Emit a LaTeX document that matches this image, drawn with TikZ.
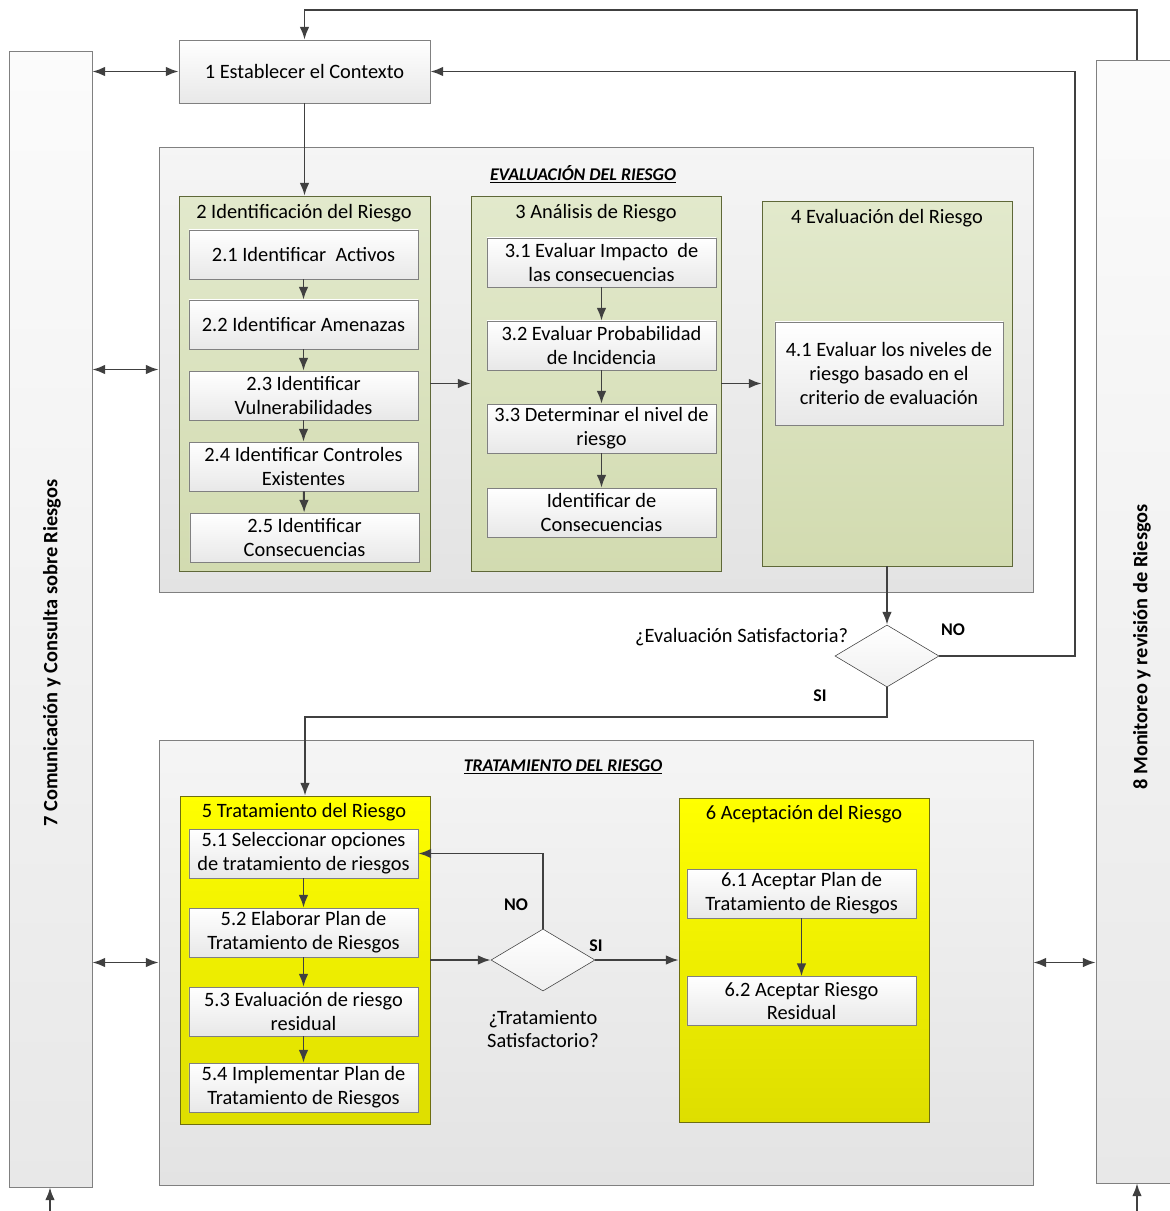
\documentclass[tikz,border=0pt]{standalone}
\usepackage{fontspec}
\setmainfont{Carlito}
\usetikzlibrary{shapes.geometric,arrows.meta,fit}
\definecolor{linegray}{HTML}{404040}
\definecolor{greentop}{HTML}{E2E9CC}
\definecolor{greenbot}{HTML}{D2DBB0}
\definecolor{greenedge}{HTML}{5F6838}
\definecolor{yellowtop}{HTML}{FFFF00}
\definecolor{yellowbot}{HTML}{DEDE00}
\definecolor{yellowedge}{HTML}{6E6E10}
\newcommand{\txt}{\fontsize{14.5}{17}\selectfont}
\newcommand{\smalltxt}{\fontsize{12.7}{14}\selectfont\bfseries}

\begin{document}
\begin{tikzpicture}[x=0.025cm,y=-0.025cm,
    >={Latex[length=3.2mm,width=2.4mm]},
    arr/.style={draw=linegray,line width=1.4pt,->},
    dbl/.style={draw=linegray,line width=1.4pt,<->},
    sub/.style={draw=gray,top color=white,bottom color=gray!18,inner sep=0pt,align=center,font=\txt,
      minimum width=5.725cm,minimum height=1.225cm},
    panel/.style={draw=gray,top color=gray!8,bottom color=gray!22,inner sep=0pt},
    bar/.style={draw=gray,top color=gray!3,bottom color=gray!18,inner sep=0pt},
    greenbox/.style={draw=greenedge,top color=greentop,bottom color=greenbot,inner sep=0pt},
    yellowbox/.style={draw=yellowedge,top color=yellowtop,bottom color=yellowbot,inner sep=0pt},
    decision/.style={diamond,draw=linegray,top color=white,bottom color=gray!12,inner sep=0pt,minimum width=2.6cm,minimum height=1.55cm},
    tag/.style={font=\smalltxt}]
  \useasboundingbox (0,0) rectangle (1170,1211);

  % side bars
  \node[bar,fit={(9,51) (92,1187)}] (c7) {};
  \node[bar,fit={(1096,60) (1171,1183)}] (m8) {};
  \node[rotate=90,font=\txt\bfseries] (t7) at (52,653) {7 Comunicación y Consulta sobre Riesgos};
  \node[rotate=90,font=\txt\bfseries] (t8) at (1142,647) {8 Monitoreo y revisión de Riesgos};

  \node[sub,minimum width=6.275cm,minimum height=1.575cm] (s1) at (304.5,71.5) {1 Establecer el Contexto};

  % evaluacion del riesgo
  \node[panel,fit={(159,147) (1033,592)}] (pe) {};
  \node[font=\smalltxt\itshape] (te) at (583,174) {\underline{EVALUACIÓN DEL RIESGO}};

  \node[greenbox,fit={(179,196) (430,571)}] (b2) {};
  \node[font=\txt] (t2) at (304,213) {2 Identificación del Riesgo};
  \node[sub] (s21) at (303.5,254.5) {2.1 Identificar~~Activos};
  \node[sub] (s22) at (303.5,324.5) {2.2 Identificar Amenazas};
  \node[sub] (s23) at (303.5,395.5) {2.3 Identificar\\Vulnerabilidades};
  \node[sub] (s24) at (303.5,466.5) {2.4 Identificar Controles\\Existentes};
  \node[sub] (s25) at (304.5,537.5) {2.5 Identificar\\Consecuencias};

  \node[greenbox,fit={(471,196) (721,571)}] (b3) {};
  \node[font=\txt] (t3) at (596,213) {3 Análisis de Riesgo};
  \node[sub] (s31) at (601.5,262.5) {3.1 Evaluar Impacto~~de\\las consecuencias};
  \node[sub] (s32) at (601.5,345.5) {3.2 Evaluar Probabilidad\\de Incidencia};
  \node[sub] (s33) at (601.5,428.5) {3.3 Determinar el nivel de\\riesgo};
  \node[sub] (s34) at (601.5,512.5) {Identificar de\\Consecuencias};

  \node[greenbox,fit={(762,201) (1012,566)}] (b4) {};
  \node[font=\txt] (t4) at (887,218) {4 Evaluación del Riesgo};
  \node[sub,minimum width=5.7cm,minimum height=2.575cm] (s41) at (889,373.5) {4.1 Evaluar los niveles de\\riesgo basado en el\\criterio de evaluación};

  \node[decision] (d1) at (887,656) {};
  \node[font=\txt,anchor=east] (q1) at (853,637) {¿Evaluación Satisfactoria?};
  \node[tag] (no1) at (953,630) {NO};
  \node[tag] (si1) at (820,696) {SI};

  % tratamiento del riesgo
  \node[panel,fit={(159,740) (1033,1185)}] (pt) {};
  \node[font=\smalltxt\itshape] (tt) at (563,767) {\underline{TRATAMIENTO DEL RIESGO}};

  \node[yellowbox,fit={(180,796) (430,1124)}] (b5) {};
  \node[font=\txt] (t5) at (304,812) {5 Tratamiento del Riesgo};
  \node[sub] (s51) at (303.5,853.5) {5.1 Seleccionar opciones\\de tratamiento de riesgos};
  \node[sub] (s52) at (303.5,932.5) {5.2 Elaborar Plan de\\Tratamiento de Riesgos};
  \node[sub] (s53) at (303.5,1011.5) {5.3 Evaluación de riesgo\\residual};
  \node[sub] (s54) at (303.5,1087.5) {5.4 Implementar Plan de\\Tratamiento de Riesgos};

  \node[decision] (d2) at (543,960) {};
  \node[font=\txt,align=center] (q2) at (543,1029) {¿Tratamiento\\Satisfactorio?};
  \node[tag] (no2) at (516,905) {NO};
  \node[tag] (si2) at (596,946) {SI};

  \node[yellowbox,fit={(679,798) (929,1122)}] (b6) {};
  \node[font=\txt] (t6) at (804,814) {6 Aceptación del Riesgo};
  \node[sub] (s61) at (801.5,893.5) {6.1 Aceptar Plan de\\Tratamiento de Riesgos};
  \node[sub] (s62) at (801.5,1001) {6.2 Aceptar Riesgo\\Residual};

  % helper coordinates
  \coordinate (topy) at (0,10);
  \coordinate (noturn) at (1075,0);
  \coordinate (siy) at (0,717);
  \coordinate (in7) at (50,1211);
  \coordinate (in8) at (1137,1211);

  % connectors
  \draw[dbl] (c7.east |- s1.west) -- (s1.west);
  \draw[arr] (in8 |- m8.north) -- (in8 |- topy) -| (s1.north);
  \draw[arr] (s1.south) -- (b2.north);
  \draw[arr] (s21) -- (s22);
  \draw[arr] (s22) -- (s23);
  \draw[arr] (s23) -- (s24);
  \draw[arr] (s24) -- (s25);
  \draw[arr] (s31) -- (s32);
  \draw[arr] (s32) -- (s33);
  \draw[arr] (s33) -- (s34);
  \draw[arr] (b2.east) -- (b3.west);
  \draw[arr] (b3.east) -- (b4.west);
  \draw[arr] (b4.south) -- (d1.north);
  \draw[arr] (d1.east) -| (noturn |- s1.east) -- (s1.east);
  \draw[arr] (d1.south) -- (d1.south |- siy) -| (b5.north);
  \draw[dbl] (c7.east |- pe.west) -- (pe.west);
  \draw[arr] (s51) -- (s52);
  \draw[arr] (s52) -- (s53);
  \draw[arr] (s53) -- (s54);
  \draw[arr] (b5.east) -- (d2.west);
  \draw[arr] (d2.north) |- (s51.east);
  \draw[arr] (d2.east) -- (b6.west);
  \draw[arr] (s61) -- (s62);
  \draw[dbl] (c7.east |- pt.west) -- (pt.west);
  \draw[dbl] (pt.east) -- (m8.west |- pt.east);
  \draw[arr] (in7) -- (in7 |- c7.south);
  \draw[arr] (in8) -- (in8 |- m8.south);
\end{tikzpicture}
\end{document}
